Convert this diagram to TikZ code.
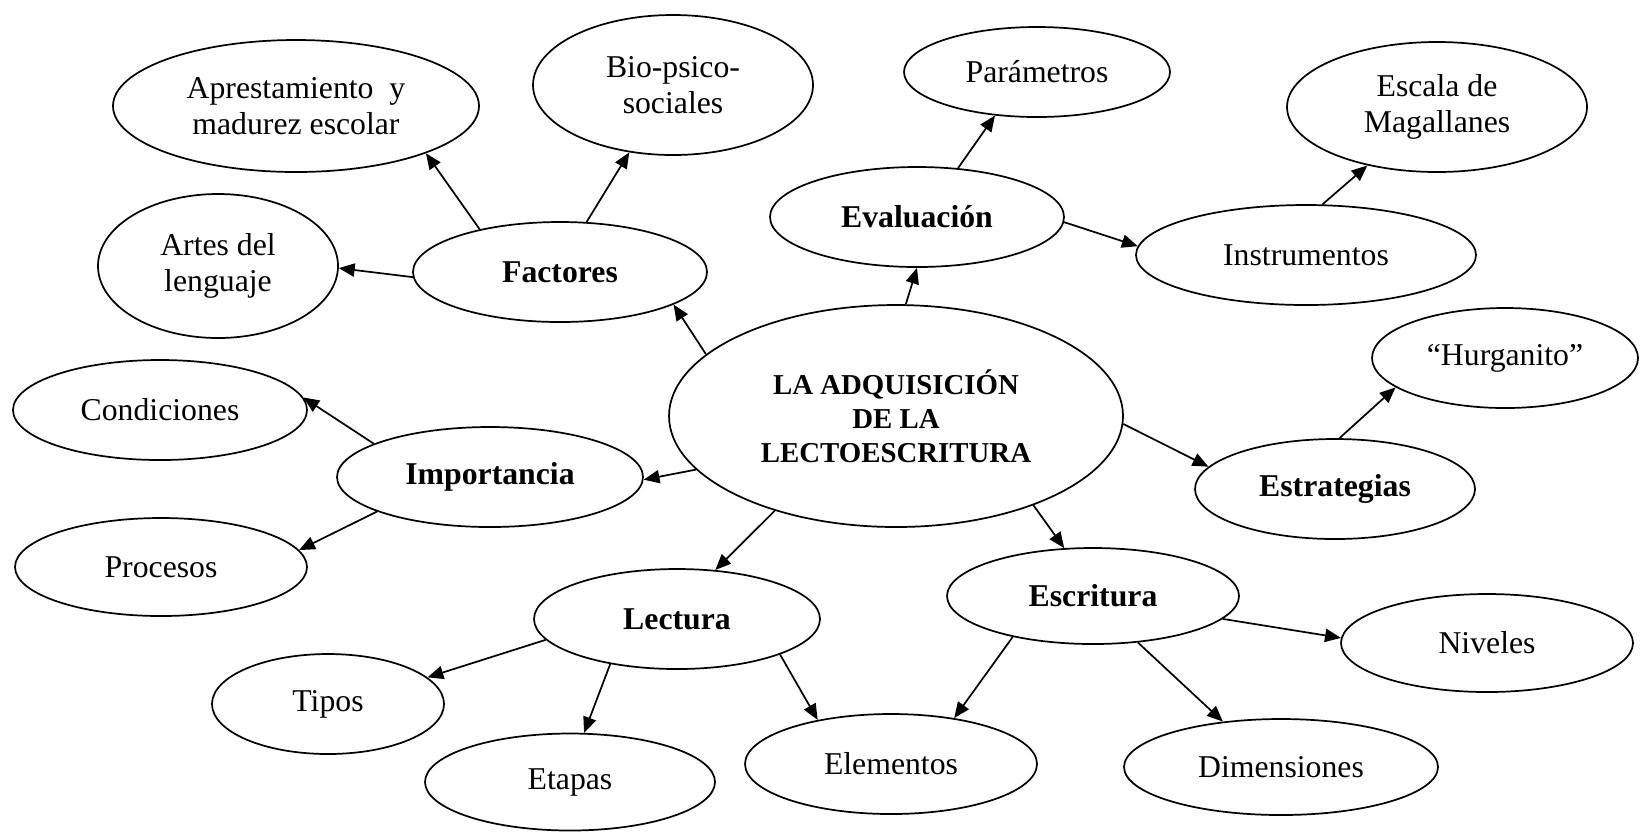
\documentclass[tikz,border=0pt]{standalone}
\usepackage{fontspec}
\setmainfont{Liberation Serif}
\usetikzlibrary{shapes.geometric,arrows.meta}
\tikzset{
  ell/.style n args={2}{ellipse, draw, line width=0.65pt, inner sep=0pt, align=center,
     minimum width=#1*0.378pt, minimum height=#2*0.378pt, font=\fontsize{12}{13.6}\selectfont},
  bf/.style={font=\fontsize{12}{13.6}\selectfont\bfseries},
  bfc/.style={font=\fontsize{10.9}{12.9}\selectfont\bfseries},
  arr/.style={-{Triangle[length=6pt,width=5pt]}, line width=0.65pt}
}
\begin{document}
\begin{tikzpicture}[x=0.378pt,y=-0.378pt]
\useasboundingbox (0,0) rectangle (1640,832);
% nodes
\node[ell={366}{132}] (apre) at (296,106) {Aprestamiento~ y\\madurez escolar};
\node[ell={280}{140}] (bio) at (673,85) {Bio-psico-\\sociales};
\node[ell={240}{144}] (artes) at (218,266) {Artes del\\lenguaje};
\node[ell={294}{100},bf] (fact) at (560,272) {Factores};
\node[ell={294}{100}] (cond) at (160,410) {Condiciones};
\node[ell={266}{90}] (param) at (1037,72) {Parámetros};
\node[ell={300}{130}] (escala) at (1437,107) {Escala de\\Magallanes};
\node[ell={294}{100},bf] (eval) at (917,217) {Evaluación};
\node[ell={340}{100}] (instr) at (1306,255) {Instrumentos};
\node[ell={266}{100}] (hurg) at (1505,358) {“Hurganito”};
\node[ell={454}{222},bfc] (central) at (896,416) {LA ADQUISICIÓN\\DE LA\\LECTOESCRITURA};
\node[ell={306}{100},bf] (imp) at (490,477) {Importancia};
\node[ell={292}{98}] (proc) at (161,567) {Procesos};
\node[ell={286}{100},bf] (lect) at (677,619) {Lectura};
\node[ell={232}{100}] (tipos) at (328,704) {Tipos};
\node[ell={290}{97}] (etapas) at (570,782) {Etapas};
\node[ell={280}{100},bf] (estr) at (1335,489) {Estrategias};
\node[ell={292}{96},bf] (escr) at (1093,596) {Escritura};
\node[ell={292}{98}] (niv) at (1487,643) {Niveles};
\node[ell={292}{100}] (elem) at (891,764) {Elementos};
\node[ell={314}{96}] (dim) at (1281,767) {Dimensiones};
% connectors
\draw[arr] (fact.152) -- (apre.-20);
\draw[arr] (fact.62) -- (bio.-123);
\draw[arr] (fact.182) -- (artes.-1);
\draw[arr] (central.162) -- (fact.-16);
\draw[arr] (imp.164) -- (cond.5);
\draw[arr] (eval.50) -- (param.-134);
\draw[arr] (eval.-2) -- (instr.177);
\draw[arr] (instr.72) -- (escala.-140);
\draw[arr] (central.85) -- (eval.-90);
\draw[arr] (estr.85) -- (hurg.-165);
\draw[arr] (central.-165) -- (imp.-1);
\draw[arr] (imp.-163) -- (proc.7);
\draw[arr] (central.-142) -- (lect.52);
\draw[arr] (lect.-171) -- (tipos.15);
\draw[arr] (lect.-146) -- (etapas.74);
\draw[arr] (lect.-19) -- (elem.149);
\draw[arr] (central.-2) -- (estr.170);
\draw[arr] (central.-33) -- (escr.121);
\draw[arr] (escr.-10) -- (niv.178);
\draw[arr] (escr.-153) -- (elem.36);
\draw[arr] (escr.-46) -- (dim.142);
\end{tikzpicture}
\end{document}
